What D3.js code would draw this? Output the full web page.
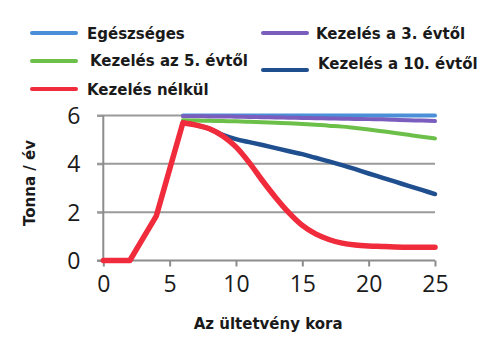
<!DOCTYPE html>
<html><head><meta charset="utf-8">
<script src="https://cdn.jsdelivr.net/npm/d3@7"></script>
<style>
html,body{margin:0;padding:0;background:#fff;}
svg{display:block;}
</style>
</head><body>
<svg id="c" width="496" height="341"></svg>
<script>
// ---- data ----
const years = [0,1,2,3,4,5,6,7,8,9,10,11,12,13,14,15,16,17,18,19,20,21,22,23,24,25];
const noTreatment = [0,0,0,0.93,1.85,3.78,5.7,5.6,5.45,5.15,4.7,4.05,3.3,2.6,1.97,1.45,1.1,0.87,0.72,0.64,0.6,0.58,0.56,0.55,0.55,0.55];
const lateYears = [6,7,8,9,10,11,12,13,14,15,16,17,18,19,20,21,22,23,24,25];
const healthy   = [6,6,6,6,6,6,6,6,6,6,6,6,6,6,6,6,6,6,6,6];
const from3     = [5.97,5.97,5.96,5.96,5.95,5.94,5.93,5.92,5.91,5.9,5.89,5.88,5.87,5.86,5.85,5.84,5.82,5.8,5.79,5.77];
const from5     = [5.8,5.79,5.78,5.77,5.76,5.74,5.72,5.7,5.68,5.65,5.62,5.58,5.54,5.48,5.42,5.35,5.28,5.2,5.12,5.05];
const from10    = [5.7,5.6,5.45,5.2,5.02,4.9,4.78,4.65,4.52,4.4,4.25,4.1,3.95,3.78,3.6,3.43,3.26,3.09,2.92,2.75];
const xTicks = [0,5,10,15,20,25];
const yTicks = [0,2,4,6];
const legendLabels = ["Egészséges","Kezelés a 3. évtől","Kezelés az 5. évtől","Kezelés a 10. évtől","Kezelés nélkül"];
const xTitle = "Az ültetvény kora";
const yTitle = "Tonna / év";

// ---- drawing ----
const colors = {healthy:"#4a8fd8", from3:"#7b5dbd", from5:"#6cc04a", from10:"#1f4f8f", none:"#ef2b3c"};
const svg = d3.select("#c");
const x = d3.scaleLinear().domain([0,25]).range([103.3,435]);
const y = d3.scaleLinear().domain([0,6]).range([260.5,115.5]);
const txt = "#1a1a1a";
const bold = "'DejaVu Sans', Verdana, sans-serif";

// gridlines
svg.append("g").selectAll("line").data(yTicks.filter(d=>d>0)).join("line")
  .attr("x1",97).attr("x2",x(25)).attr("y1",d=>y(d)).attr("y2",d=>y(d))
  .attr("stroke","#9a9a9a").attr("stroke-width",2);

// y axis
const ya = svg.append("g").attr("transform",`translate(${x(0)},0)`)
  .call(d3.axisLeft(y).tickValues(yTicks).tickSize(6).tickPadding(17).tickFormat(d3.format("d")));
ya.select(".domain").remove();
ya.selectAll(".tick line").attr("stroke","#9a9a9a").attr("stroke-width",2);
ya.selectAll("text").attr("font-family","'Open Sans', sans-serif").attr("font-size",23).attr("fill",txt).attr("dy","0.35em");
svg.append("line").attr("x1",x(0)).attr("x2",x(0)).attr("y1",y(6)).attr("y2",y(0)+1)
  .attr("stroke","#8c8c8c").attr("stroke-width",2);

// x axis
const xa = svg.append("g").attr("transform",`translate(0,${y(0)})`)
  .call(d3.axisBottom(x).tickValues(xTicks).tickSize(6).tickPadding(9).tickSizeOuter(0).tickFormat(d3.format("d")));
xa.select(".domain").attr("stroke","#8c8c8c").attr("stroke-width",2).attr("d",`M97,0H${x(25)}`);
xa.selectAll(".tick line").attr("stroke","#8c8c8c").attr("stroke-width",2);
xa.selectAll("text").attr("font-family","'Open Sans', sans-serif").attr("font-size",23).attr("fill",txt);

// titles
svg.append("text").attr("x",(x(0)+x(25))/2-1).attr("y",329).attr("text-anchor","middle")
  .attr("font-family",bold).attr("font-weight","bold").attr("font-size",15).attr("fill",txt).text(xTitle);
svg.append("text").attr("transform","translate(35,183) rotate(-90)").attr("text-anchor","middle")
  .attr("font-family",bold).attr("font-weight","bold").attr("font-size",15).attr("fill",txt).text(yTitle);

// series
const lineSmooth = d3.line().x(d=>x(d[0])).y(d=>y(d[1])).curve(d3.curveMonotoneX);
const lineStraight = d3.line().x(d=>x(d[0])).y(d=>y(d[1]));
function late(vals){ return lateYears.map((t,i)=>[t,vals[i]]); }
const series = [
  {v:healthy,c:colors.healthy,w:4},
  {v:from3,c:colors.from3,w:4},
  {v:from5,c:colors.from5,w:4},
  {v:from10,c:colors.from10,w:4.5},
];
series.forEach(s=>{
  svg.append("path").attr("d",lineSmooth(late(s.v))).attr("fill","none")
    .attr("stroke",s.c).attr("stroke-width",s.w).attr("stroke-linecap","round").attr("stroke-linejoin","round");
});
const redPts = years.map((t,i)=>[t,noTreatment[i]]);
const redD = lineStraight(redPts.filter(d=>d[0]<=6)) + "L" + lineSmooth(redPts.filter(d=>d[0]>=6)).slice(1);
svg.append("path").attr("d",redD).attr("fill","none").attr("stroke",colors.none)
  .attr("stroke-width",5.5).attr("stroke-linecap","round").attr("stroke-linejoin","round");

// legend
const legend = [
  {label:legendLabels[0], c:colors.healthy, lx:32, ly:33, tx:87, ty:39},
  {label:legendLabels[2], c:colors.from5,   lx:32, ly:61, tx:90, ty:66},
  {label:legendLabels[4], c:colors.none,    lx:32, ly:89, tx:87, ty:95},
  {label:legendLabels[1], c:colors.from3,   lx:263, ly:33, tx:316, ty:39},
  {label:legendLabels[3], c:colors.from10,  lx:263, ly:70, tx:318, ty:69},
];
const lg = svg.append("g");
legend.forEach(l=>{
  lg.append("line").attr("x1",l.lx).attr("x2",l.lx+44).attr("y1",l.ly).attr("y2",l.ly)
    .attr("stroke",l.c).attr("stroke-width",4).attr("stroke-linecap","round");
  lg.append("text").attr("x",l.tx).attr("y",l.ty).attr("font-family",bold).attr("font-weight","bold")
    .attr("font-size",15).attr("fill",txt).text(l.label);
});
</script>
</body></html>
